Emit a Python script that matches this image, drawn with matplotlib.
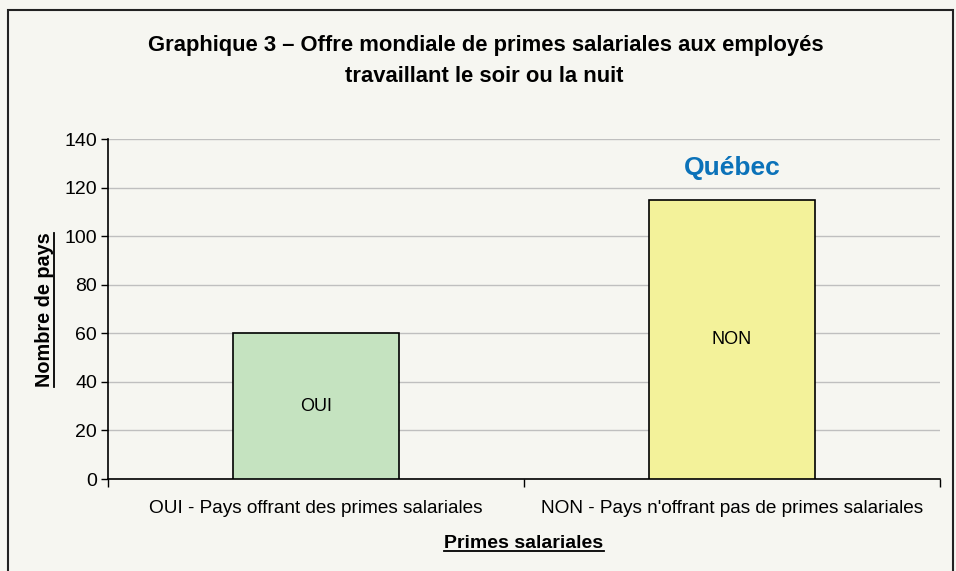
import numpy as np
import matplotlib.pyplot as plt
from matplotlib.patches import Rectangle
from matplotlib.lines import Line2D

plt.rcParams['font.family'] = ['Liberation Sans', 'DejaVu Sans']

# data
categories = ['OUI - Pays offrant des primes salariales',
              "NON - Pays n'offrant pas de primes salariales"]
bar_labels = ['OUI', 'NON']
values = [60, 115]
colors = ['#C5E3C0', '#F3F29A']
yticks = [0, 20, 40, 60, 80, 100, 120, 140]

bg = '#F6F6F1'
W, H = 956, 571
fig = plt.figure(figsize=(W/100, H/100), dpi=100, facecolor=bg)
ax = fig.add_axes([108/W, 1-479/H, 832/W, 340/H], facecolor=bg)

x = np.arange(len(categories))
ax.bar(x, values, width=0.4, color=colors, edgecolor='black', linewidth=1.2, zorder=3)
for xi, v, lab in zip(x, values, bar_labels):
    ax.text(xi, v/2, lab, ha='center', va='center', fontsize=13, zorder=4)

# Québec label over the NON bar
ax.text(1, 128, 'Québec', ha='center', va='center', fontsize=19,
        fontweight='bold', color='#0B72B9', zorder=4)

ax.set_xlim(-0.5, 1.5)
ax.set_ylim(0, 140)
ax.set_yticks(yticks)
ax.tick_params(axis='y', labelsize=14, length=5, width=1, direction='out', pad=3)
ax.set_xticks(x)
ax.set_xticklabels(categories, fontsize=13.7)
ax.tick_params(axis='x', which='major', length=0, pad=15)
ax.set_xticks([-0.5, 0.5, 1.5], minor=True)
ax.tick_params(axis='x', which='minor', length=6, width=1, direction='out')
ax.grid(axis='y', color='#BFBFBF', linewidth=1, zorder=0)
for s in ['top', 'right']:
    ax.spines[s].set_visible(False)
for s in ['left', 'bottom']:
    ax.spines[s].set_linewidth(1.2)

ylab = fig.text(45/W, 1-310/H, 'Nombre de pays', rotation=90, ha='center', va='center',
                fontsize=14.3, fontweight='bold')
xlab = fig.text(524/W, 1-543/H, 'Primes salariales', ha='center', va='center',
                fontsize=14, fontweight='bold')

fig.text(486/W, 1-45/H, 'Graphique 3 – Offre mondiale de primes salariales aux employés',
         ha='center', va='center', fontsize=15.8, fontweight='bold')
fig.text(484/W, 1-76/H, 'travaillant le soir ou la nuit',
         ha='center', va='center', fontsize=15.8, fontweight='bold')

# underline the axis labels
fig.canvas.draw()
r = fig.canvas.get_renderer()
bb = xlab.get_window_extent(r)
fig.add_artist(Line2D([bb.x0/W, bb.x1/W], [(bb.y0 + 1)/H]*2, color='black', lw=1.3,
                      transform=fig.transFigure))
bb = ylab.get_window_extent(r)
fig.add_artist(Line2D([(bb.x1 - 1)/W]*2, [bb.y0/H, bb.y1/H], color='black', lw=1.3,
                      transform=fig.transFigure))

# outer frame
fig.patches.append(Rectangle((8/W, -0.05), 945/W, 1.05 - 10/H,
                             transform=fig.transFigure, fill=False,
                             edgecolor='#222222', linewidth=1.5))

fig.savefig('out.png', dpi=100, facecolor=bg)
